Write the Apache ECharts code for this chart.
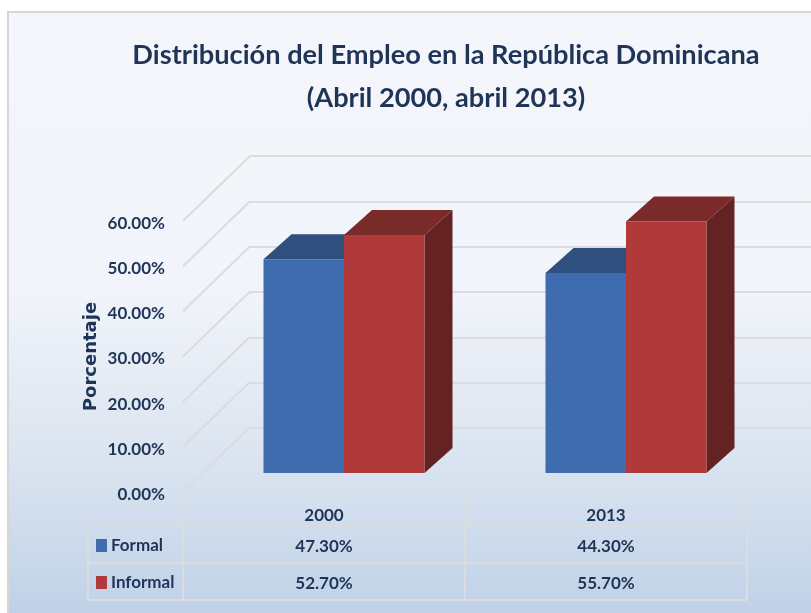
<!DOCTYPE html>
<html>
<head>
<meta charset="utf-8">
<style>
  html, body { margin: 0; padding: 0; background: #fff; }
  #chart { width: 811px; height: 613px; }
</style>
<script src="https://cdn.jsdelivr.net/npm/echarts@6/dist/echarts.min.js"></script>
</head>
<body>
<div id="chart"></div>
<script>
const titleLines = ["Distribución del Empleo en la República Dominicana", "(Abril 2000, abril 2013)"];
const categories = ["2000", "2013"];
const formal = [47.3, 44.3];
const informal = [52.7, 55.7];
const yTicks = [0, 10, 20, 30, 40, 50, 60];

const font = "Lato";
const textColor = "#1f3557";
const lineColor = "#dadce0";

// how far the bars stand behind the front edge of the floor, and their own depth
const barShift = [20, -19];
const barDepth = [28, -25];
const barWidth = 80.5;
// depth of the whole floor, front edge to back wall
const wallDepth = [67, -65];

const colors = {
  Formal: { front: "#3f6cae", top: "#2f4f7f", side: "#2a4570" },
  Informal: { front: "#b03a3a", top: "#7b2a2a", side: "#652222" },
};

function pct(v) {
  return v.toFixed(2) + "%";
}

function barSeries(name, values, side) {
  return {
    name: name,
    type: "custom",
    z: 5,
    itemStyle: { color: colors[name].front },
    data: values.map((v, i) => [i, v]),
    encode: { x: 0, y: 1 },
    renderItem: (params, api) => {
      const top = api.coord([api.value(0), api.value(1)]);
      const base = api.coord([api.value(0), 0]);
      const x0 = top[0] + barShift[0] + (side < 0 ? -barWidth : 0);
      const x1 = x0 + barWidth;
      const y0 = top[1] + barShift[1];
      const y1 = base[1] + barShift[1];
      const dx = barDepth[0];
      const dy = barDepth[1];
      const c = colors[name];
      return {
        type: "group",
        children: [
          {
            type: "polygon",
            shape: { points: [[x1, y0], [x1 + dx, y0 + dy], [x1 + dx, y1 + dy], [x1, y1]] },
            style: { fill: c.side },
          },
          {
            type: "polygon",
            shape: { points: [[x0, y0], [x0 + dx, y0 + dy], [x1 + dx, y0 + dy], [x1, y0]] },
            style: { fill: c.top },
          },
          {
            type: "rect",
            shape: { x: x0, y: y0, width: barWidth, height: y1 - y0 },
            style: { fill: c.front },
          },
        ],
      };
    },
  };
}

const chart = echarts.init(document.getElementById("chart"));

chart.setOption({
  animation: false,
  backgroundColor: "#fff",
  textStyle: { fontFamily: font },
  title: {
    text: titleLines.join("\n"),
    left: 441,
    top: 29,
    textAlign: "center",
    textStyle: {
      fontFamily: font,
      fontSize: 27.2,
      fontWeight: "bold",
      lineHeight: 43,
      color: textColor,
    },
  },
  legend: {
    orient: "vertical",
    left: 91,
    top: 532,
    padding: 5,
    itemWidth: 11,
    itemHeight: 13,
    itemGap: 20,
    selectedMode: false,
    icon: "rect",
    data: ["Formal", "Informal"],
    textStyle: {
      fontFamily: font,
      fontSize: 17,
      fontWeight: "bold",
      color: textColor,
      padding: [0, 0, 0, -1],
    },
  },
  grid: [
    { left: 183, right: 64, top: 221, height: 271 },
    { left: 250, right: 0, top: 156, height: 272 },
  ],
  xAxis: [
    {
      type: "category",
      gridIndex: 0,
      data: categories,
      axisLine: { show: false },
      axisTick: { show: true, length: 108, lineStyle: { color: lineColor, width: 2 } },
      axisLabel: {
        margin: 11,
        interval: 0,
        formatter: (value, i) => `{y|${value}}\n{v|${pct(formal[i])}}\n{v|${pct(informal[i])}}`,
        rich: {
          y: { fontFamily: font, fontSize: 17, fontWeight: "bold", color: textColor, lineHeight: 25 },
          v: { fontFamily: font, fontSize: 17, fontWeight: "bold", color: textColor, lineHeight: 37 },
        },
      },
    },
    { type: "value", gridIndex: 1, min: 0, max: 1, show: false },
  ],
  yAxis: [
    {
      type: "value",
      gridIndex: 0,
      min: 0,
      max: 60,
      interval: 10,
      name: "Porcentaje",
      nameLocation: "middle",
      nameGap: 83,
      nameMoveOverlap: false,
      nameTextStyle: { fontFamily: "DejaVu Sans", fontSize: 18, fontWeight: "bold", color: textColor },
      axisLine: { show: false },
      axisTick: { show: false },
      splitLine: { show: false },
      axisLabel: {
        margin: 18,
        formatter: (v) => `{t|${pct(v)}}`,
        rich: {
          t: { fontFamily: font, fontSize: 17, fontWeight: "bold", color: textColor, padding: [5, 0, 0, 0] },
        },
      },
    },
    {
      type: "value",
      gridIndex: 1,
      min: 0,
      max: 60,
      interval: 10,
      axisLine: { show: false },
      axisTick: { show: false },
      axisLabel: { show: false },
      splitLine: { show: true, lineStyle: { color: lineColor, width: 2 } },
    },
  ],
  series: [
    {
      // side wall lines, from the value labels back to the wall
      name: "wall",
      type: "custom",
      z: 1,
      silent: true,
      data: yTicks.map((t) => [0, t]),
      encode: { x: 0, y: 1 },
      renderItem: (params, api) => {
        const y = api.coord([0, api.value(1)])[1];
        const x = params.coordSys.x;
        return {
          type: "line",
          shape: { x1: x, y1: y, x2: x + wallDepth[0], y2: y + wallDepth[1] },
          style: { stroke: lineColor, lineWidth: 2 },
        };
      },
    },
    barSeries("Formal", formal, -1),
    barSeries("Informal", informal, 1),
  ],
  graphic: [
    {
      type: "rect",
      z: -10,
      shape: { x: 8, y: 12, width: 820, height: 620 },
      style: {
        stroke: "#d6d6d6",
        lineWidth: 2,
        fill: {
          type: "linear",
          x: 0, y: 0, x2: 0, y2: 1,
          colorStops: [
            { offset: 0, color: "#f4f6fb" },
            { offset: 0.45, color: "#f1f4fa" },
            { offset: 0.75, color: "#d8e2ef" },
            { offset: 1, color: "#bccfe6" },
          ],
        },
      },
    },
    // table rows under the axis
    { type: "line", z: 2, shape: { x1: 88, y1: 526, x2: 747, y2: 526 }, style: { stroke: lineColor, lineWidth: 2 } },
    { type: "line", z: 2, shape: { x1: 88, y1: 563, x2: 747, y2: 563 }, style: { stroke: lineColor, lineWidth: 2 } },
    { type: "line", z: 2, shape: { x1: 88, y1: 600, x2: 747, y2: 600 }, style: { stroke: lineColor, lineWidth: 2 } },
    { type: "line", z: 2, shape: { x1: 88, y1: 526, x2: 88, y2: 600 }, style: { stroke: lineColor, lineWidth: 2 } },
  ],
});
</script>
</body>
</html>
